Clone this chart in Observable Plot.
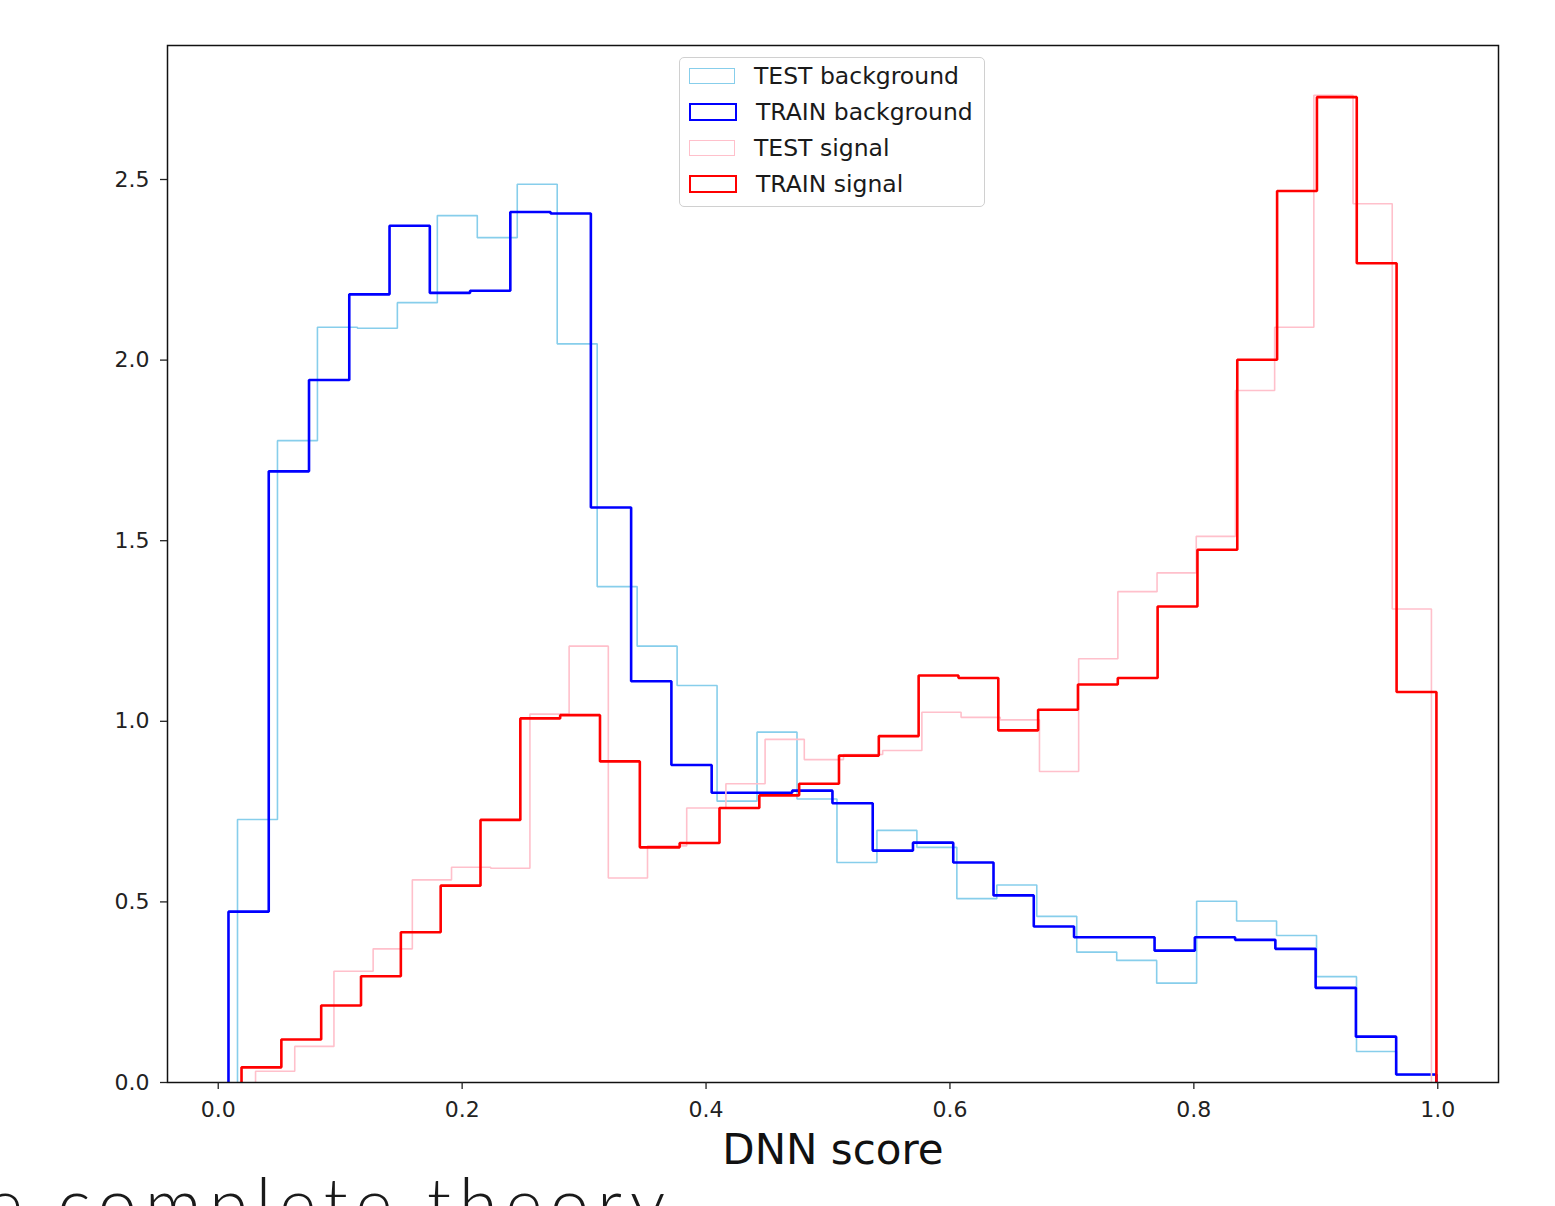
<!DOCTYPE html>
<html>
<head>
<meta charset="utf-8">
<script src="https://cdn.jsdelivr.net/npm/d3@7"></script>
<script src="https://cdn.jsdelivr.net/npm/@observablehq/plot@0.6"></script>
<style>
  html, body { margin: 0; padding: 0; background: #fff; }
  body { width: 1555px; height: 1206px; overflow: hidden; position: relative; font-family: "DejaVu Sans", sans-serif; }
  #chart { position: absolute; left: 0; top: 0; }
  #legend {
    position: absolute; left: 679px; top: 57px; width: 304px; height: 148px;
    border: 1.5px solid #d0d0d0; border-radius: 5px; background: rgba(255,255,255,0.85);
    font-family: "DejaVu Sans", sans-serif; font-size: 23.5px; color: #1a1a1a;
  }
  #legend .row { display: flex; align-items: center; height: 36px; padding-left: 9px; }
  #legend .sw { width: 44px; height: 14px; border-style: solid; margin-right: 19px; box-sizing: content-box; }
  #bottomtext {
    position: absolute; left: -14px; top: 1160px; white-space: nowrap;
    font-family: "Lato", sans-serif; font-weight: 300; font-size: 70px; letter-spacing: 8px; color: #1a1a1a;
  }
</style>
</head>
<body>
<div id="chart"></div>
<div id="legend"></div>
<div id="bottomtext">e complete theory</div>
<script>
// Series names (legend order) and colours
const seriesNames = ["TEST background", "TRAIN background", "TEST signal", "TRAIN signal"];
const seriesColors = ["#87ceeb", "#0000ff", "#ffc0cb", "#ff0000"];
const seriesWidths = [1.6, 2.6, 1.6, 2.6];

// Histogram ranges (min, max of each sample; 30 equal bins)
const nBins = 30;
const testBgRange = [0.0158, 0.9989];
const trainBgRange = [0.0084, 0.9989];
const testSigRange = [0.0306, 0.9948];
const trainSigRange = [0.0191, 0.9989];

// Bin densities
const testBg = [0.728,1.777,2.091,2.088,2.159,2.400,2.339,2.487,2.045,1.373,1.208,1.099,0.779,0.970,0.785,0.609,0.698,0.651,0.509,0.547,0.460,0.361,0.338,0.275,0.502,0.447,0.407,0.293,0.086,0.020];
const trainBg = [0.473,1.692,1.945,2.182,2.372,2.186,2.192,2.410,2.406,1.592,1.111,0.879,0.802,0.802,0.808,0.773,0.642,0.664,0.609,0.518,0.432,0.402,0.402,0.365,0.402,0.395,0.370,0.262,0.127,0.022];
const testSig = [0.031,0.100,0.308,0.370,0.561,0.596,0.593,1.020,1.208,0.566,0.655,0.760,0.827,0.950,0.894,0.908,0.919,1.025,1.011,1.004,0.861,1.173,1.359,1.411,1.512,1.916,2.091,2.733,2.433,1.311];
const trainSig = [0.042,0.119,0.213,0.294,0.416,0.545,0.727,1.008,1.017,0.889,0.651,0.663,0.760,0.795,0.827,0.905,0.959,1.127,1.120,0.975,1.032,1.102,1.120,1.318,1.475,2.001,2.468,2.728,2.268,1.081];

// Axis ticks
const xTicks = [0.0, 0.2, 0.4, 0.6, 0.8, 1.0];
const yTicks = [0.0, 0.5, 1.0, 1.5, 2.0, 2.5];

const seriesValues = [testBg, trainBg, testSig, trainSig];
const seriesRanges = [testBgRange, trainBgRange, testSigRange, trainSigRange];

// Build step outlines (like matplotlib histtype="step")
const rows = [];
seriesNames.forEach((name, si) => {
  const vals = seriesValues[si];
  const [lo, hi] = seriesRanges[si];
  const w = (hi - lo) / nBins;
  const edge = i => lo + i * w;
  rows.push({series: name, x: edge(0), y: 0});
  vals.forEach((v, i) => {
    rows.push({series: name, x: edge(i), y: v});
    rows.push({series: name, x: edge(i + 1), y: v});
  });
  rows.push({series: name, x: edge(vals.length), y: 0});
});

const marks = [];
seriesNames.forEach((name, si) => {
  marks.push(Plot.line(rows.filter(r => r.series === name), {
    x: "x", y: "y", stroke: seriesColors[si], strokeWidth: seriesWidths[si],
    strokeLinejoin: "miter", strokeLinecap: "butt"
  }));
});

const chart = Plot.plot({
  width: 1555,
  height: 1206,
  marginLeft: 167,
  marginRight: 57,
  marginTop: 45,
  marginBottom: 124,
  style: {fontFamily: "DejaVu Sans, sans-serif", background: "transparent", overflow: "visible"},
  x: {domain: [-0.0416, 1.0498]},
  y: {domain: [0, 2.871]},
  marks: [
    ...marks,
    Plot.frame({stroke: "#111", strokeWidth: 1.5}),
    Plot.axisX({ticks: xTicks, tickFormat: ".1f", tickSize: 7, tickPadding: 12, fontSize: 22, label: null, color: "#222", strokeWidth: 1.3}),
    Plot.axisY({ticks: yTicks, tickFormat: ".1f", tickSize: 7, tickPadding: 11, fontSize: 22, label: null, color: "#222", strokeWidth: 1.3}),
    Plot.text(["DNN score"], {frameAnchor: "bottom", dy: 68, fontSize: 42, lineAnchor: "middle", fill: "#111"})
  ]
});
document.getElementById("chart").appendChild(chart);

// Legend
const legend = document.getElementById("legend");
seriesNames.forEach((name, si) => {
  const row = document.createElement("div");
  row.className = "row";
  const sw = document.createElement("div");
  sw.className = "sw";
  sw.style.borderColor = seriesColors[si];
  sw.style.borderWidth = si % 2 === 1 ? "2.5px" : "1.6px";
  const t = document.createElement("span");
  t.textContent = name;
  row.appendChild(sw);
  row.appendChild(t);
  legend.appendChild(row);
});
</script>
</body>
</html>
